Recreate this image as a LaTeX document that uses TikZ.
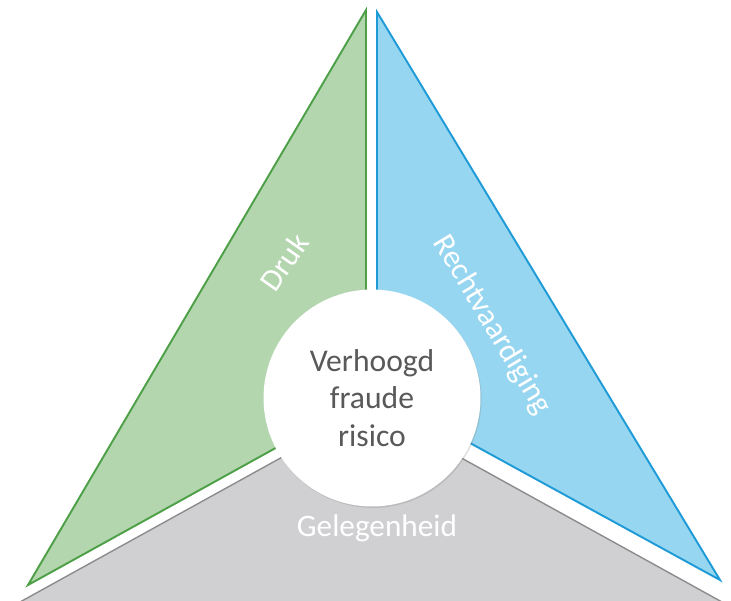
\documentclass[tikz,border=0pt]{standalone}
\usepackage{fontspec}
\setmainfont{Carlito}
\usetikzlibrary{positioning,shadows}
\definecolor{drukfill}{RGB}{179,214,175}
\definecolor{drukline}{RGB}{78,160,72}
\definecolor{rechtfill}{RGB}{151,214,240}
\definecolor{rechtline}{RGB}{30,155,215}
\definecolor{gelegfill}{RGB}{208,208,210}
\definecolor{gelegline}{RGB}{140,140,142}
\definecolor{kerntext}{RGB}{89,89,89}
\tikzset{
	%Define style for the triangle sides
	zijde/.style={
		line width=1.1pt,
		line join=miter},
	%Define style for the side texts
	zijtekst/.style={
		text=white,
		inner sep=0pt,
		font=\fontsize{17.8}{21}\selectfont},
	% Define style for the centre circle
	kern/.style={
		circle,
		fill=white,
		minimum size=4.34cm,
		text=kerntext,
		align=center,
		font=\fontsize{18}{21.3}\selectfont,
		drop shadow={opacity=0.25, shadow xshift=0.6pt, shadow yshift=-0.8pt}}
}
\begin{document}
\begin{tikzpicture}[x=0.02cm, y=-0.02cm]

	\useasboundingbox (0,0) rectangle (731,600);
	\clip (0,0) rectangle (731,600);  % cut off the grey triangle at the bottom

	% the three sides
	\fill[gelegfill] (371,408) -- (20,602) -- (722,602) -- cycle;
	\draw[gelegline, line width=0.8pt] (20,602) -- (371,408) -- (722,602);
	\filldraw[zijde, fill=drukfill, draw=drukline] (366,10) -- (28,585) -- (366,398) -- cycle;
	\filldraw[zijde, fill=rechtfill, draw=rechtline] (377,12) -- (720,580) -- (377,392) -- cycle;

	\node[kern] (risico) at (372,398) {Verhoogd\\fraude\\risico};

	\node[zijtekst, rotate=55] (druk) at (284,262) {Druk};
	\node[zijtekst, rotate=-59] (recht) at (492,325) {Rechtvaardiging};
	\node[zijtekst, below=0.16cm of risico, xshift=0.1cm] (gelegenheid) {Gelegenheid};

\end{tikzpicture}
\end{document}
